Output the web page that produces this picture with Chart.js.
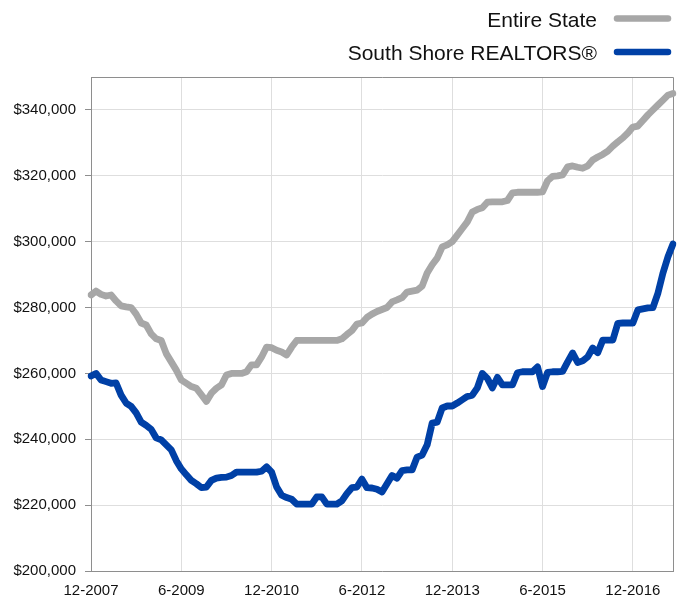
<!DOCTYPE html>
<html>
<head>
<meta charset="utf-8">
<script src="https://cdn.jsdelivr.net/npm/chart.js@4/dist/chart.umd.min.js"></script>
<style>
  html, body { margin: 0; padding: 0; background: #fff; }
  #wrap { width: 681px; height: 598px; position: relative; }
</style>
</head>
<body>
<div id="wrap"><canvas id="ch"></canvas></div>
<script>
'use strict';

// months 12-2007 .. 8-2017
const startMonth = 12, startYear = 2007, monthCount = 117;
const tickLabels = ['12-2007', '6-2009', '12-2010', '6-2012', '12-2013', '6-2015', '12-2016'];
const yTicks = [200000, 220000, 240000, 260000, 280000, 300000, 320000, 340000];

const seriesNames = ['Entire State', 'South Shore REALTORS®'];

const entireState = [
  283800, 285000, 284000, 283500, 283800, 282000, 280500, 280200, 280000, 278000,
  275300, 274700, 272000, 270500, 270000, 266000, 263500, 261000, 258000, 257000,
  256000, 255500, 253500, 251500, 254000, 255500, 256500, 259500, 260000, 260000,
  260000, 260500, 262600, 262600, 265000, 268000, 267800, 267000, 266500, 265600,
  268000, 270000, 270000, 270000, 270000, 270000, 270000, 270000, 270000, 270000,
  270500, 271800, 273000, 275000, 275300, 277000, 278000, 278800, 279400, 280000,
  281700, 282300, 283000, 284700, 285000, 285300, 286500, 290500, 293000, 295000,
  298400, 299000, 300000, 302000, 304000, 306000, 309000, 309800, 310300, 312000,
  312100, 312100, 312100, 312500, 314800, 315000, 315000, 315000, 315000, 315000,
  315100, 318500, 319800, 320000, 320300, 322700, 323000, 322600, 322300, 323000,
  324800, 325700, 326500, 327500, 329000, 330300, 331500, 333000, 334800, 335100,
  336800, 338500, 340000, 341500, 343000, 344500, 345000
];

const southShore = [
  259200, 260000, 258000, 257500, 257000, 257100, 253400, 251000, 250000, 248000,
  245200, 244200, 243000, 240400, 239800, 238300, 236800, 233500, 231000, 229200,
  227500, 226500, 225300, 225500, 227500, 228200, 228400, 228500, 229000, 230000,
  230000, 230000, 230000, 230000, 230300, 231600, 230000, 225500, 223000, 222300,
  221800, 220300, 220300, 220300, 220300, 222500, 222500, 220300, 220300, 220300,
  221300, 223500, 225300, 225500, 227900, 225300, 225200, 224800, 224000, 226500,
  229000, 228200, 230500, 230700, 230700, 234600, 235200, 238300, 244900, 245200,
  249500, 250100, 250100, 251000, 252000, 253000, 253400, 255600, 260000, 258500,
  255600, 258800, 256500, 256500, 256500, 260200, 260500, 260500, 260500, 262000,
  256000, 260300, 260500, 260500, 260600, 263500, 266200, 263300, 263800, 265000,
  267700, 266300, 270100, 270100, 270100, 275200, 275300, 275300, 275300, 279300,
  279600, 279900, 280000, 284400, 290500, 295400, 299300
];

const seriesColors = ['#a7a7a7', '#0040a6'];

const months = [];
for (let i = 0; i < monthCount; i++) {
  const m = (startMonth - 1 + i) % 12 + 1;
  const y = startYear + Math.floor((startMonth - 1 + i) / 12);
  months.push(m + '-' + y);
}

const FONT = '"Liberation Sans", Arial, Helvetica, sans-serif';

const frameAndLegend = {
  id: 'frameAndLegend',
  beforeDatasetsDraw(chart) {
    const { ctx, chartArea: a } = chart;
    ctx.save();
    ctx.strokeStyle = '#8e8e8e';
    ctx.lineWidth = 1;
    ctx.beginPath();
    ctx.moveTo(a.left, a.top + 0.5);
    ctx.lineTo(a.right + 0.5, a.top + 0.5);
    ctx.lineTo(a.right + 0.5, a.bottom);
    ctx.stroke();
    ctx.restore();
  },
  afterDraw(chart) {
    const ctx = chart.ctx;
    ctx.save();
    ctx.font = '21px ' + FONT;
    ctx.textAlign = 'right';
    ctx.textBaseline = 'alphabetic';
    chart.data.datasets.forEach((ds, i) => {
      const y = 18.5 + i * 33.5;
      ctx.fillStyle = '#111';
      ctx.fillText(ds.label, 597, y + 8);
      ctx.strokeStyle = ds.borderColor;
      ctx.lineWidth = 6.5;
      ctx.lineCap = 'round';
      ctx.beginPath();
      ctx.moveTo(617, y);
      ctx.lineTo(668, y);
      ctx.stroke();
    });
    ctx.restore();
  }
};

new Chart(document.getElementById('ch').getContext('2d'), {
  type: 'line',
  data: {
    labels: months,
    datasets: [
      { label: seriesNames[0], data: entireState, borderColor: seriesColors[0], borderWidth: 6.8,
        pointRadius: 0, tension: 0, borderJoinStyle: 'round', borderCapStyle: 'round' },
      { label: seriesNames[1], data: southShore, borderColor: seriesColors[1], borderWidth: 6.8,
        pointRadius: 0, tension: 0, borderJoinStyle: 'round', borderCapStyle: 'round' }
    ]
  },
  options: {
    responsive: true,
    maintainAspectRatio: false,
    animation: false,
    layout: { padding: { left: 0, right: 8, top: 77, bottom: 0 } },
    plugins: { legend: { display: false }, tooltip: { enabled: false } },
    scales: {
      x: {
        type: 'category',
        offset: false,
        afterBuildTicks: s => { s.ticks = s.ticks.filter(t => tickLabels.includes(months[t.value])); },
        afterFit: s => { s.height = 27; },
        ticks: { autoSkip: false, maxRotation: 0, padding: 11, color: '#111', font: { family: FONT, size: 15 } },
        grid: { color: '#dedede', drawTicks: false },
        border: { color: '#8e8e8e' }
      },
      y: {
        min: 200000,
        max: 350000,
        afterBuildTicks: s => { s.ticks = yTicks.map(v => ({ value: v })); },
        afterFit: s => { s.width = 91; },
        ticks: { padding: 9, color: '#111', font: { family: FONT, size: 15 },
          callback: v => '$' + Number(v).toLocaleString('en-US') },
        grid: { color: '#dedede', tickLength: 6, tickColor: '#8e8e8e' },
        border: { color: '#8e8e8e' }
      }
    }
  },
  plugins: [frameAndLegend]
});
</script>
</body>
</html>
